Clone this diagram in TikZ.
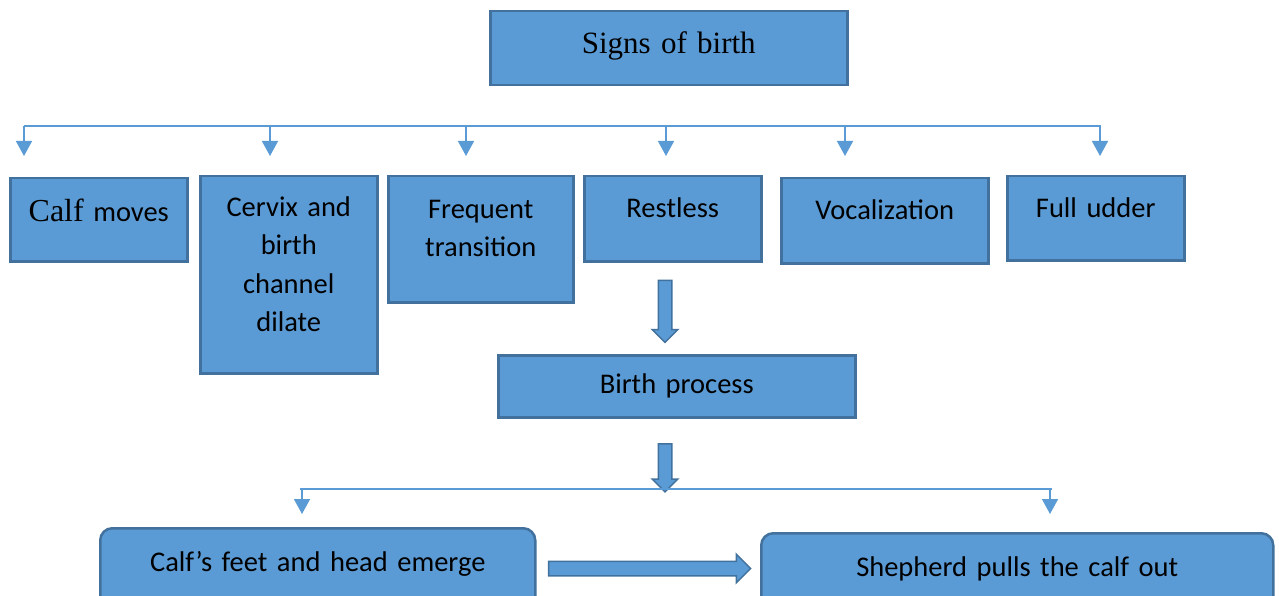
\documentclass[tikz,border=0pt]{standalone}
\usepackage{fontspec}
\setmainfont{Carlito}
\newfontfamily\serifface{Liberation Serif}
\usetikzlibrary{arrows.meta,shapes.arrows}
\definecolor{boxfill}{HTML}{5B9BD5}
\definecolor{boxline}{HTML}{41719C}
\definecolor{linkblue}{HTML}{5B9BD5}
\tikzset{
  box/.style={draw=boxline, fill=boxfill, line width=2.5pt, inner sep=0pt,
    align=center, anchor=north west, font=\fontsize{28.5}{38.5}\selectfont},
  boxsize/.style n args={3}{text width=#1, text height=#2, text depth=#3},
  roundbox/.style={box, rounded corners=12pt},
  bar/.style={draw=linkblue, line width=1.5pt},
  thinarrow/.style={bar, -{Triangle[width=16pt,length=15pt]}},
  fatarrow/.style={single arrow, draw=boxline, fill=boxfill, line width=1.5pt,
    inner sep=6pt, single arrow head extend=6pt, minimum width=24pt}
}
\begin{document}
\begin{tikzpicture}[x=1pt,y=-1pt]
\useasboundingbox (0,0) rectangle (1279,596);
% top box
\node[box, boxsize={357pt}{42pt}{32pt}, font=\serifface\fontsize{31}{36}\selectfont] (signs) at (489,10) {Signs of birth};
% the six signs
\node[box, boxsize={177pt}{43pt}{40pt}] (calfmoves) at (9,177) {{\serifface\fontsize{32}{36}\selectfont Calf} moves};
\node[box, boxsize={177pt}{40pt}{157pt}] (cervix) at (199,175) {Cervix and\\birth\\channel\\dilate};
\node[box, boxsize={185pt}{42pt}{84pt}] (frequent) at (387,175) {Frequent\\transition};
\node[box, boxsize={177pt}{41pt}{44pt}] (restless) at (583,175) {Restless};
\node[box, boxsize={207pt}{41pt}{44pt}] (vocal) at (780,177) {Vocalization};
\node[box, boxsize={177pt}{41pt}{43pt}] (udder) at (1006,175) {Full udder};
\node[box, boxsize={357pt}{38pt}{24pt}] (process) at (497,354) {Birth process};
\node[roundbox, boxsize={435pt}{43pt}{37pt}] (feet) at (99,527) {Calf’s feet and head emerge};
\node[roundbox, boxsize={512pt}{43pt}{37pt}] (shepherd) at (760,532) {Shepherd pulls the calf out};

% connectors from the title
\coordinate (barL) at (24,126);
\coordinate (barR) at (1101,126);
\draw[bar] (barL) -- (barR);
\foreach \x/\n in {24/calf,270/cervix,466/freq,666/rest,845/vocal,1100/udder}{
  \coordinate (tip\n) at (\x,156);
  \draw[thinarrow] (tip\n |- barL) -- (tip\n);
}

% block arrows
\node[fatarrow, rotate=-90, minimum height=62pt] (down1) at (665,308) {};
\node[fatarrow, rotate=-90, minimum height=48pt] (down2) at (665,464.5) {};
\node[fatarrow, inner sep=6.5pt, single arrow head extend=7pt, minimum width=27pt, minimum height=202pt] (across) at (646,568.5) {};

% lower split
\coordinate (lowL) at (300,489);
\coordinate (lowR) at (1052,489);
\draw[bar] (lowL) -- (lowR);
\coordinate (tipfeet) at (302,514);
\coordinate (tipshep) at (1050,514);
\draw[thinarrow] (tipfeet |- lowL) -- (tipfeet);
\draw[thinarrow] (tipshep |- lowL) -- (tipshep);
\end{tikzpicture}
\end{document}
